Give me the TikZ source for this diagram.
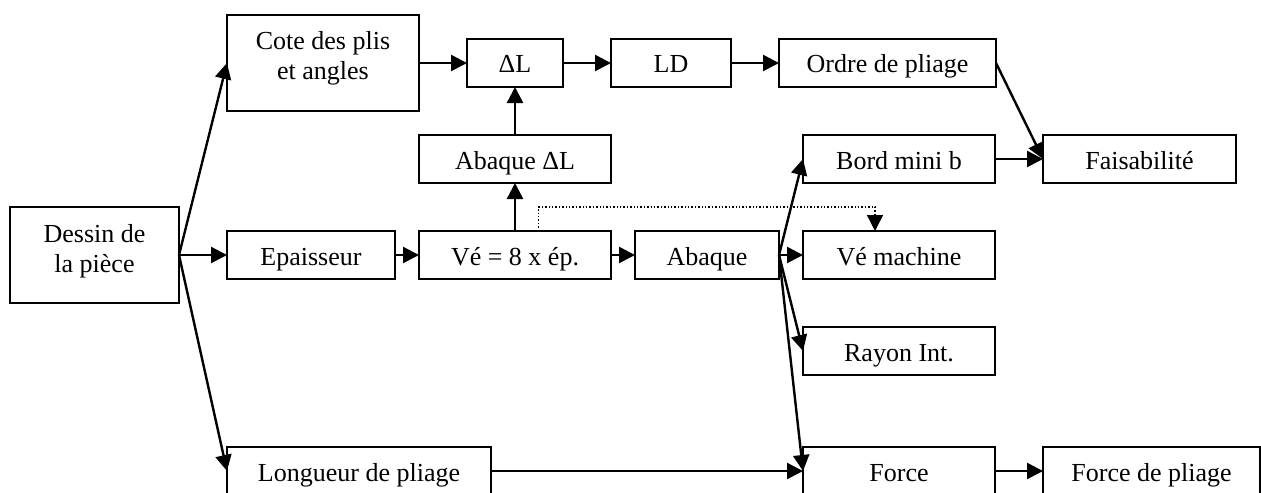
\documentclass[tikz,border=0pt]{standalone}
\usepackage{fontspec}
\setmainfont{Liberation Serif}
\usetikzlibrary{arrows.meta,positioning,calc}

\begin{document}
\begin{tikzpicture}[
        x=0.5pt, y=-0.5pt,
        >={Triangle[length=8pt,width=8pt]},
        node distance=24pt,
        every node/.style={font=\fontsize{13}{15}\selectfont, align=center},
        box/.style={draw, line width=1.2pt, minimum height=24pt, inner sep=2pt, outer sep=0pt, text height=10pt, text depth=0pt},
        tallbox/.style={box, minimum height=48pt, text height=25pt, text depth=8pt},
        link/.style={->, line width=1.2pt}
    ]
        \useasboundingbox (0,0) rectangle (1261,492);

        \node[tallbox, minimum width=84.5pt] (dessin) at (94.5,255) {Dessin de\\la pièce};
        \node[tallbox, minimum width=96pt] (cote) at (323,63) {Cote des plis\\et angles};
        \node[box, minimum width=48pt, right=of cote] (dl) {ΔL};
        \node[box, minimum width=60pt, right=of dl] (ld) {LD};
        \node[box, minimum width=108.5pt, right=of ld] (ordre) {Ordre de pliage};
        \node[box, minimum width=96pt, below=of dl] (abdl) {Abaque ΔL};
        \node[box, minimum width=84pt, right=of dessin] (ep) {Epaisseur};
        \node[box, minimum width=96pt, right=12pt of ep] (ve) {Vé = 8 x ép.};
        \node[box, minimum width=72pt, right=12pt of ve] (abaque) {Abaque};
        \node[box, minimum width=96pt, right=12pt of abaque] (vem) {Vé machine};
        \node[box, minimum width=96pt, above=of vem] (bord) {Bord mini b};
        \node[box, minimum width=96pt, below=of vem] (rayon) {Rayon Int.};
        \node[box, minimum width=96.5pt, right=of bord] (fais) {Faisabilité};
        \node[box, minimum width=96pt, below=36pt of rayon] (force) {Force};
        \node[box, minimum width=108.5pt, right=of force] (fpl) {Force de pliage};
        \node[box, minimum width=132pt, anchor=west] (long) at (227,471) {Longueur de pliage};

        \draw[link] (dessin.east) -- (cote.west);
        \draw[link] (dessin) -- (ep);
        \draw[link] (dessin.east) -- (long.west);
        \draw[link] (cote) -- (dl);
        \draw[link] (dl) -- (ld);
        \draw[link] (ld) -- (ordre);
        \draw[link] (abdl) -- (dl);
        \draw[link] (ve) -- (abdl);
        \draw[link] (ep) -- (ve);
        \draw[link] (ve) -- (abaque);
        \draw[link] (abaque) -- (vem);
        \draw[link] (abaque.east) -- (bord.west);
        \draw[link] (abaque.east) -- (rayon.west);
        \draw[link] (abaque.east) -- (force.west);
        \draw[link] (long) -- (force);
        \draw[link] (force) -- (fpl);
        \draw[link] (ordre.east) -- (fais.west);
        \draw[link] (bord) -- (fais);

        \coordinate (dotA) at ($(ve.north)+(23.5,0)$);
        \coordinate (dotB) at ($(vem.north)+(-24,0)$);
        \draw[->, densely dotted, line width=0.7pt] (dotA) -- ++(0,-24) -| (dotB);
    \end{tikzpicture}
\end{document}
